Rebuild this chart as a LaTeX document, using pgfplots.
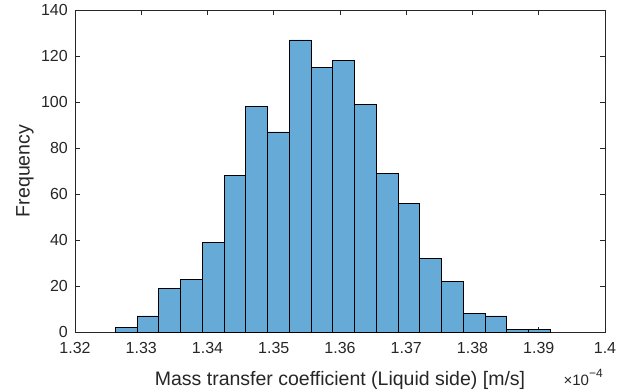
\documentclass[border=0pt]{standalone}
\usepackage{pgfplots}
\pgfplotsset{compat=1.18}
\usepackage{fontspec}
\setmainfont{Liberation Sans}
\definecolor{barfill}{RGB}{102,170,215}
\definecolor{axgray}{RGB}{38,38,38}
\begin{document}
\begin{tikzpicture}
\path[use as bounding box] (-75bp,-60bp) rectangle (551bp,332bp);
\begin{axis}[
  at={(0,0)}, anchor=south west,
  scale only axis,
  width=530bp, height=322bp,
  xmin=1.32, xmax=1.40, ymin=0, ymax=140,
  enlargelimits=false,
  xtick={1.32,1.33,1.34,1.35,1.36,1.37,1.38,1.39,1.40},
  xticklabels={1.32,1.33,1.34,1.35,1.36,1.37,1.38,1.39,1.4},
  x tick label as interval=false,
  ytick={0,20,40,60,80,100,120,140},
  tick align=inside,
  major tick length=5.5bp,
  axis line style={axgray, line width=0.6pt},
  every tick/.style={axgray, line width=0.6pt},
  /pgf/number format/assume math mode=true,
  tick label style={font=\fontsize{16bp}{18bp}\selectfont, text=axgray, inner sep=0pt},
  xticklabel style={yshift=-10bp},
  yticklabel style={xshift=-7bp},
  label style={font=\fontsize{19.5bp}{22bp}\selectfont, text=axgray},
  xlabel={Mass transfer coefficient (Liquid side) [m/s]},
  ylabel={Frequency},
  xlabel style={at={(axis description cs:0.5,-0.1646)}, anchor=base},
  ylabel style={at={(axis description cs:-0.0943,0.5)}, anchor=center},
  clip=false,
]
\addplot[ybar interval, fill=barfill, draw=black, line width=0.7pt] coordinates {
(1.32608,2) (1.32936,7) (1.33265,19) (1.33593,23) (1.33921,39)
(1.34250,68) (1.34578,98) (1.34906,87) (1.35234,127) (1.35563,115)
(1.35891,118) (1.36219,99) (1.36548,69) (1.36876,56) (1.37204,32)
(1.37533,22) (1.37861,8) (1.38189,7) (1.38517,1) (1.38846,1)
(1.39174,1)
};
\node[anchor=base east, text=axgray, font=\fontsize{15bp}{17bp}\selectfont, inner sep=0pt] at (axis description cs:0.996,-0.1646) {×10\raisebox{0.5em}{\fontsize{12bp}{14bp}\selectfont −4}};
\end{axis}
\end{tikzpicture}
\end{document}
